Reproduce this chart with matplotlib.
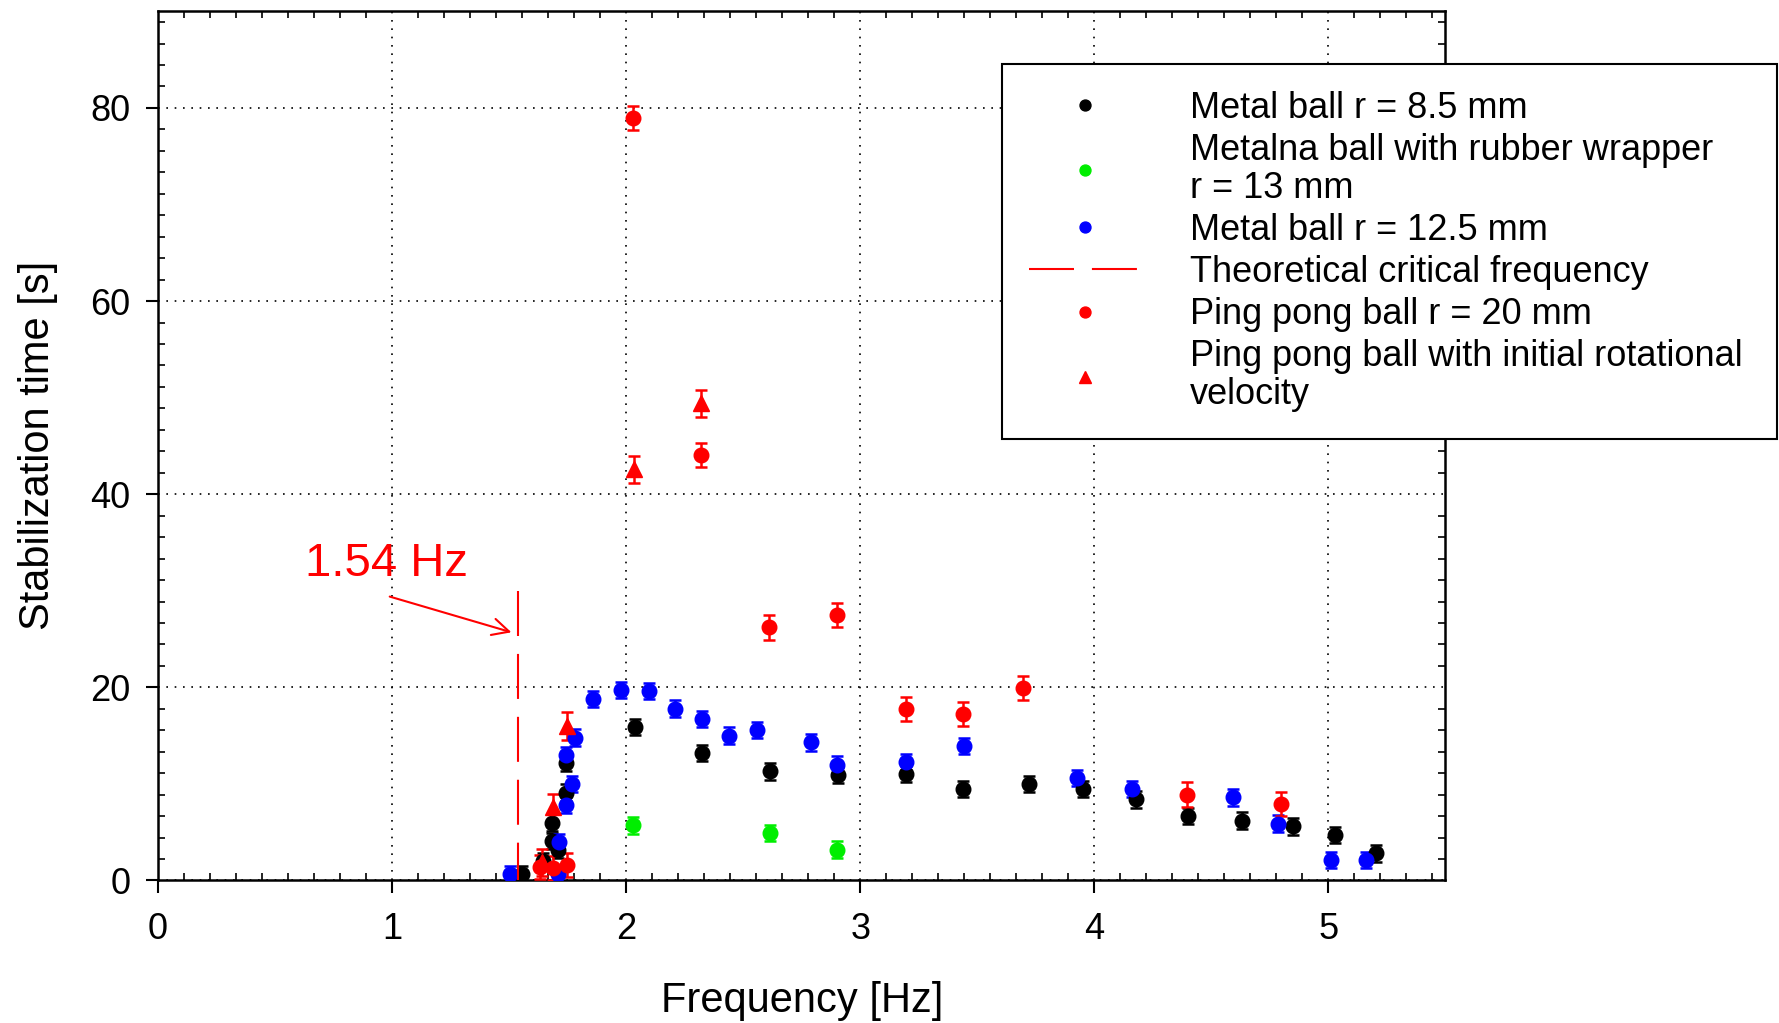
import matplotlib
matplotlib.use('Agg')
import matplotlib.pyplot as plt
from matplotlib.ticker import MultipleLocator

plt.rcParams['font.family'] = ['Liberation Sans', 'DejaVu Sans']

# Metal ball r = 8.5 mm
metal_small_f = [1.555, 1.645, 1.683, 1.683, 1.709, 1.741, 1.741, 2.037, 2.325, 2.613, 2.905,
                 3.195, 3.438, 3.723, 3.951, 4.180, 4.400, 4.630, 4.847, 5.027, 5.202]
metal_small_t = [0.7, 2.0, 4.1, 6.0, 3.2, 9.1, 12.2, 15.9, 13.2, 11.3, 10.9,
                 11.0, 9.5, 10.0, 9.5, 8.4, 6.7, 6.2, 5.6, 4.7, 2.8]
metal_small_err = [0.85] * len(metal_small_f)

# Metal ball with rubber wrapper r = 13 mm
rubber_f = [2.030, 2.613, 2.901]
rubber_t = [5.7, 4.9, 3.2]
rubber_err = [0.85, 0.85, 0.85]

# Metal ball r = 12.5 mm
metal_big_f = [1.505, 1.709, 1.713, 1.741, 1.770, 1.741, 1.783, 1.860, 1.976, 2.097, 2.209, 2.325,
               2.441, 2.557, 2.790, 2.901, 3.195, 3.445, 3.928, 4.160, 4.594, 4.783, 5.012, 5.159]
metal_big_t = [0.7, 0.7, 4.0, 7.8, 10.0, 13.0, 14.8, 18.8, 19.7, 19.6, 17.8, 16.7,
               15.0, 15.6, 14.3, 12.0, 12.3, 13.9, 10.6, 9.5, 8.6, 5.9, 2.1, 2.1]
metal_big_err = [0.85] * len(metal_big_f)

# Ping pong ball r = 20 mm
pingpong_f = [1.630, 1.687, 1.747, 2.030, 2.320, 2.612, 2.900, 3.195, 3.438, 3.696, 4.397, 4.799]
pingpong_t = [1.4, 1.3, 1.6, 79.0, 44.1, 26.2, 27.5, 17.8, 17.2, 19.9, 8.9, 7.9]
pingpong_err = [1.25] * len(pingpong_f)

# Ping pong ball with initial rotational velocity
spin_f = [1.640, 1.689, 1.747, 2.034, 2.320]
spin_t = [1.9, 7.6, 16.0, 42.6, 49.4]
spin_err = [1.4] * len(spin_f)

crit_freq = 1.54

fig = plt.figure(figsize=(17.79, 10.23), dpi=100)
ax = fig.add_axes([0.0888, 0.1393, 0.7237, 0.8496])


def points(x, y, err, color, marker, ms=10.5):
    return ax.errorbar(x, y, yerr=err, fmt=marker, color=color, ms=ms, capsize=4.5,
                       elinewidth=1.8, capthick=1.8, zorder=3)


eb1 = points(metal_small_f, metal_small_t, metal_small_err, 'black', 'o')
eb2 = points(rubber_f, rubber_t, rubber_err, '#00ee00', 'o')
eb3 = points(metal_big_f, metal_big_t, metal_big_err, '#0000ff', 'o')
crit_line, = ax.plot([crit_freq, crit_freq], [30, 0], color='red', lw=1.5,
                     ls=(0, (21.6, 8.6)), zorder=4)
eb4 = points(pingpong_f, pingpong_t, pingpong_err, 'red', 'o')
eb5 = points(spin_f, spin_t, spin_err, 'red', '^', ms=11)

ax.text(0.976, 31.5, '%.2f Hz' % crit_freq, color='red', fontsize=34,
        ha='center', va='baseline')
ax.annotate('', xy=(crit_freq - 0.03, 25.7), xytext=(0.99, 29.4),
            arrowprops=dict(arrowstyle='->,head_length=0.6,head_width=0.3',
                            color='red', lw=1.5, mutation_scale=20,
                            shrinkA=0, shrinkB=0))

ax.set_xlim(0, 5.5)
ax.set_ylim(0, 90)
ax.xaxis.set_major_locator(MultipleLocator(1))
ax.xaxis.set_minor_locator(MultipleLocator(1 / 9))
ax.yaxis.set_major_locator(MultipleLocator(20))
ax.yaxis.set_minor_locator(MultipleLocator(20 / 9))
ax.tick_params(which='major', direction='out', length=9, width=1.5, labelsize=26)
ax.tick_params(axis='x', which='major', pad=14)
ax.tick_params(axis='y', which='major', pad=11)
ax.tick_params(which='minor', direction='in', length=5, width=1.2, top=True, right=True)
ax.grid(which='major', color='black', linestyle=(0, (1, 4)), lw=1.2)
for sp in ax.spines.values():
    sp.set_linewidth(1.8)

ax.set_xlabel('Frequency [Hz]', fontsize=30)
ax.set_ylabel('Stabilization time [s]', fontsize=30)
ax.xaxis.set_label_coords(0.5, -0.1156)
ax.yaxis.set_label_coords(-0.078, 0.501)

labels = ['Metal ball r = 8.5 mm',
          'Metalna ball with rubber wrapper\nr = 13 mm',
          'Metal ball r = 12.5 mm',
          'Theoretical critical frequency',
          'Ping pong ball r = 20 mm',
          'Ping pong ball with initial rotational\nvelocity']
leg = ax.legend([eb1[0], eb2[0], eb3[0], crit_line, eb4[0], eb5[0]], labels,
                loc='upper left', bbox_to_anchor=(0.6555, 0.509, 0.602, 0.431),
                mode='expand', fontsize=26, frameon=True, fancybox=False,
                edgecolor='black', framealpha=1, markerscale=0.75,
                handlelength=3.1, handletextpad=1.35, borderpad=0.75,
                labelspacing=0.2, borderaxespad=0)
leg.get_frame().set_linewidth(1.5)
leg.set_zorder(5)
for t in leg.get_texts():
    t.set_linespacing(1.1)

fig.savefig('out.png', dpi=100)
